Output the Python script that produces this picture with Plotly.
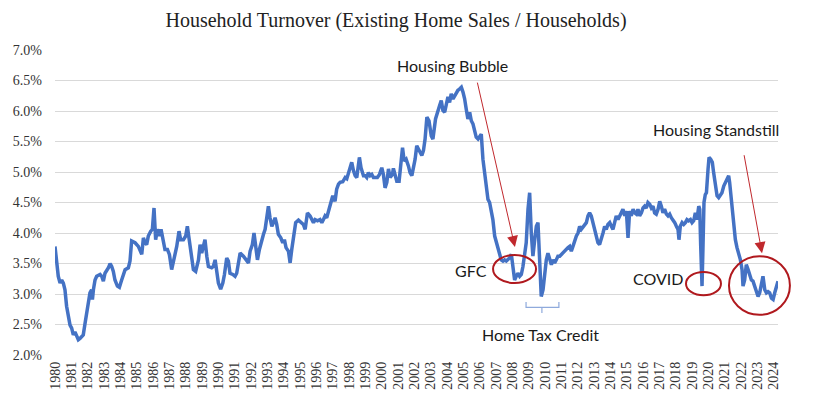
import plotly.graph_objects as go

# ---- data (x in axis-label years, y in % of households) ----
years = [
    1980.00, 1980.10, 1980.20, 1980.31, 1980.41, 1980.51, 1980.61, 1980.71, 1980.82, 1980.92,
    1981.02, 1981.12, 1981.22, 1981.33, 1981.43, 1981.53, 1981.63, 1981.73, 1981.84, 1981.94,
    1982.04, 1982.14, 1982.24, 1982.29, 1982.35, 1982.45, 1982.55, 1982.76, 1982.86, 1982.96,
    1983.06, 1983.27, 1983.37, 1983.47, 1983.57, 1983.67, 1983.82, 1983.94, 1984.08, 1984.18,
    1984.29, 1984.49, 1984.59, 1984.69, 1984.90, 1985.10, 1985.31, 1985.41, 1985.51, 1985.61,
    1985.71, 1985.86, 1985.96, 1986.06, 1986.16, 1986.27, 1986.39, 1986.49, 1986.63, 1986.73,
    1986.88, 1987.00, 1987.14, 1987.24, 1987.45, 1987.59, 1987.69, 1987.86, 1988.00, 1988.10,
    1988.20, 1988.31, 1988.47, 1988.61, 1988.78, 1988.88, 1988.98, 1989.08, 1989.18, 1989.29,
    1989.39, 1989.59, 1989.69, 1989.80, 1989.90, 1990.00, 1990.14, 1990.27, 1990.37, 1990.51,
    1990.61, 1990.71, 1990.88, 1991.02, 1991.12, 1991.22, 1991.33, 1991.53, 1991.69, 1991.84,
    1991.94, 1992.08, 1992.18, 1992.29, 1992.39, 1992.51, 1992.65, 1992.76, 1992.86, 1992.96,
    1993.06, 1993.16, 1993.27, 1993.37, 1993.47, 1993.57, 1993.67, 1993.82, 1993.94, 1994.04,
    1994.14, 1994.29, 1994.39, 1994.49, 1994.59, 1994.73, 1994.90, 1995.04, 1995.20, 1995.31,
    1995.45, 1995.61, 1995.71, 1995.82, 1995.92, 1996.06, 1996.22, 1996.33, 1996.43, 1996.53,
    1996.63, 1996.78, 1996.90, 1997.00, 1997.14, 1997.24, 1997.35, 1997.45, 1997.61, 1997.76,
    1997.86, 1997.96, 1998.06, 1998.16, 1998.27, 1998.37, 1998.47, 1998.57, 1998.63, 1998.73,
    1998.88, 1998.98, 1999.08, 1999.18, 1999.29, 1999.39, 1999.49, 1999.59, 1999.73, 1999.86,
    2000.00, 2000.10, 2000.20, 2000.31, 2000.41, 2000.51, 2000.65, 2000.71, 2000.82, 2000.92,
    2001.06, 2001.16, 2001.27, 2001.37, 2001.49, 2001.63, 2001.73, 2001.84, 2001.94, 2002.04,
    2002.14, 2002.24, 2002.35, 2002.45, 2002.55, 2002.65, 2002.76, 2002.89, 2003.03, 2003.13,
    2003.29, 2003.44, 2003.54, 2003.64, 2003.74, 2003.85, 2003.95, 2004.05, 2004.15, 2004.25,
    2004.36, 2004.46, 2004.56, 2004.66, 2004.76, 2004.87, 2004.97, 2005.07, 2005.17, 2005.27,
    2005.38, 2005.48, 2005.58, 2005.68, 2005.78, 2005.89, 2005.99, 2006.09, 2006.19, 2006.29,
    2006.40, 2006.50, 2006.60, 2006.70, 2006.80, 2006.91, 2007.01, 2007.11, 2007.21, 2007.31,
    2007.42, 2007.52, 2007.62, 2007.72, 2007.82, 2007.93, 2008.03, 2008.13, 2008.23, 2008.33,
    2008.44, 2008.54, 2008.64, 2008.74, 2008.84, 2008.95, 2009.05, 2009.15, 2009.25, 2009.36,
    2009.46, 2009.56, 2009.66, 2009.76, 2009.87, 2009.97, 2010.07, 2010.17, 2010.27, 2010.38,
    2010.48, 2010.58, 2010.68, 2010.78, 2010.89, 2010.99, 2011.09, 2011.19, 2011.29, 2011.40,
    2011.50, 2011.60, 2011.70, 2011.80, 2011.91, 2012.01, 2012.11, 2012.21, 2012.31, 2012.42,
    2012.52, 2012.62, 2012.72, 2012.82, 2012.93, 2013.03, 2013.13, 2013.23, 2013.33, 2013.44,
    2013.54, 2013.64, 2013.74, 2013.84, 2013.95, 2014.05, 2014.15, 2014.25, 2014.35, 2014.46,
    2014.56, 2014.66, 2014.76, 2014.87, 2014.97, 2015.07, 2015.17, 2015.27, 2015.38, 2015.48,
    2015.58, 2015.68, 2015.78, 2015.89, 2015.99, 2016.09, 2016.19, 2016.29, 2016.40, 2016.50,
    2016.60, 2016.70, 2016.80, 2016.91, 2017.01, 2017.11, 2017.21, 2017.31, 2017.42, 2017.52,
    2017.62, 2017.72, 2017.82, 2017.93, 2018.03, 2018.13, 2018.19, 2018.27, 2018.38, 2018.48,
    2018.58, 2018.68, 2018.78, 2018.89, 2018.99, 2019.09, 2019.19, 2019.29, 2019.40, 2019.46,
    2019.52, 2019.60, 2019.66, 2019.72, 2019.80, 2019.87, 2019.97, 2020.03, 2020.13, 2020.23,
    2020.31, 2020.42, 2020.52, 2020.62, 2020.72, 2020.82, 2020.93, 2021.03, 2021.13, 2021.23,
    2021.29, 2021.36, 2021.44, 2021.54, 2021.64, 2021.74, 2021.84, 2021.95, 2022.05, 2022.11,
    2022.21, 2022.31, 2022.42, 2022.52, 2022.62, 2022.72, 2022.82, 2022.93, 2023.03, 2023.13,
    2023.23, 2023.33, 2023.44, 2023.54, 2023.64, 2023.74, 2023.85, 2023.95, 2024.05, 2024.15,
    2024.25,
]
turnover = [
    3.78, 3.56, 3.29, 3.18, 3.23, 3.18, 3.07, 2.80, 2.63, 2.49,
    2.44, 2.33, 2.38, 2.30, 2.25, 2.27, 2.30, 2.33, 2.52, 2.69,
    2.80, 3.02, 3.07, 2.91, 3.07, 3.23, 3.29, 3.32, 3.29, 3.21,
    3.34, 3.43, 3.50, 3.45, 3.37, 3.23, 3.13, 3.11, 3.23, 3.34,
    3.40, 3.43, 3.54, 3.87, 3.84, 3.78, 3.65, 3.92, 3.84, 3.81,
    3.95, 4.03, 4.06, 4.41, 3.89, 4.06, 3.95, 4.06, 3.87, 3.73,
    3.73, 3.65, 3.40, 3.51, 3.78, 4.03, 3.89, 3.89, 3.95, 4.11,
    3.89, 3.73, 3.40, 3.37, 3.56, 3.81, 3.67, 3.78, 3.89, 3.62,
    3.45, 3.43, 3.45, 3.56, 3.34, 3.18, 3.08, 3.18, 3.32, 3.59,
    3.54, 3.34, 3.32, 3.29, 3.34, 3.48, 3.67, 3.62, 3.56, 3.51,
    3.70, 3.81, 4.00, 3.78, 3.56, 3.73, 3.89, 3.98, 4.06, 4.22,
    4.44, 4.25, 4.11, 4.17, 4.25, 4.14, 3.98, 3.92, 3.84, 3.89,
    3.76, 3.70, 3.51, 3.73, 3.95, 4.17, 4.21, 4.18, 4.14, 4.06,
    4.33, 4.28, 4.22, 4.17, 4.22, 4.20, 4.22, 4.17, 4.22, 4.28,
    4.25, 4.41, 4.55, 4.61, 4.52, 4.72, 4.80, 4.83, 4.84, 4.91,
    4.89, 4.99, 5.10, 5.16, 5.02, 4.94, 4.91, 5.07, 5.24, 5.07,
    4.94, 4.94, 4.91, 4.99, 4.94, 4.96, 4.91, 4.91, 4.91, 4.96,
    5.07, 4.96, 4.74, 4.83, 5.05, 4.91, 4.96, 5.06, 4.96, 4.85,
    4.85, 5.16, 5.40, 5.18, 5.21, 5.10, 4.99, 4.94, 5.05, 5.21,
    5.43, 5.38, 5.32, 5.27, 5.35, 5.54, 5.90, 5.84, 5.59, 5.54,
    5.87, 5.98, 6.09, 6.17, 6.01, 5.98, 6.14, 6.23, 6.14, 6.28,
    6.20, 6.25, 6.31, 6.34, 6.36, 6.39, 6.31, 6.20, 6.03, 5.87,
    5.98, 5.84, 5.79, 5.68, 5.57, 5.54, 5.57, 5.62, 5.21, 4.99,
    4.72, 4.55, 4.50, 4.39, 4.22, 3.95, 3.84, 3.78, 3.62, 3.56,
    3.54, 3.56, 3.54, 3.56, 3.59, 3.65, 3.40, 3.23, 3.29, 3.34,
    3.29, 3.32, 3.45, 3.67, 3.84, 4.39, 4.66, 4.00, 3.62, 3.89,
    4.11, 4.17, 3.67, 2.96, 3.07, 3.34, 3.56, 3.67, 3.56, 3.48,
    3.56, 3.51, 3.56, 3.62, 3.62, 3.65, 3.67, 3.70, 3.73, 3.76,
    3.78, 3.70, 3.78, 3.87, 3.95, 4.00, 4.11, 4.06, 4.09, 4.14,
    4.17, 4.28, 4.33, 4.28, 4.17, 4.06, 3.95, 3.84, 3.81, 3.89,
    4.00, 4.11, 4.06, 4.14, 4.17, 4.11, 4.06, 4.17, 4.28, 4.22,
    4.28, 4.36, 4.39, 4.28, 4.36, 3.92, 4.36, 4.28, 4.39, 4.33,
    4.31, 4.39, 4.28, 4.33, 4.41, 4.44, 4.41, 4.50, 4.47, 4.41,
    4.44, 4.33, 4.31, 4.39, 4.52, 4.44, 4.33, 4.39, 4.31, 4.28,
    4.31, 4.25, 4.22, 4.17, 4.11, 4.06, 3.89, 4.11, 4.17, 4.14,
    4.17, 4.22, 4.20, 4.22, 4.17, 4.20, 4.33, 4.22, 4.44, 4.39,
    3.78, 3.13, 3.78, 4.50, 4.63, 4.66, 5.05, 5.24, 5.21, 5.16,
    4.99, 4.74, 4.61, 4.58, 4.61, 4.66, 4.77, 4.83, 4.88, 4.94,
    4.83, 4.61, 4.39, 4.11, 3.89, 3.76, 3.67, 3.56, 3.40, 3.13,
    3.23, 3.48, 3.40, 3.29, 3.23, 3.21, 3.13, 3.02, 2.96, 3.02,
    3.13, 3.29, 3.07, 3.02, 3.04, 3.02, 2.93, 2.91, 3.02, 3.13,
    3.21,
]
tick_years = list(range(1980, 2025))
y_ticks = [2.0, 2.5, 3.0, 3.5, 4.0, 4.5, 5.0, 5.5, 6.0, 6.5, 7.0]

title_text = "Household Turnover (Existing Home Sales / Households)"

# ---- layout geometry (page has an 8px body margin, so the figure is 812x386) ----
W, H = 812, 386
ML, MR, MT, MB = 47, 42, 42, 39
X_RANGE = [1980.0, 2024.25]
Y_RANGE = [2.0, 7.0]

def xp(v):
    return (v - X_RANGE[0]) / (X_RANGE[1] - X_RANGE[0])

def yp(v):
    return (v - Y_RANGE[0]) / (Y_RANGE[1] - Y_RANGE[0])

RED = "#B0191E"
ARROW_RED = "#C0282D"
BRACKET = "#8FAADC"
SERIF = "Liberation Serif, Times New Roman, serif"
NOTE_FONT = dict(family="Lato, Carlito, Calibri, sans-serif", size=16, color="#1a1a1a")

fig = go.Figure()
fig.add_trace(go.Scatter(
    x=years, y=turnover, mode="lines",
    line=dict(color="#4472C4", width=3.5),
    hoverinfo="skip", showlegend=False,
))

shapes = []
# circles (ellipses)
for (x0, x1, y0, y1) in [(2006.81, 2009.44, 3.18, 3.64),
                         (2018.62, 2020.76, 2.98, 3.36),
                         (2021.25, 2024.98, 2.66, 3.62)]:
    shapes.append(dict(type="circle", xref="paper", yref="paper",
                       x0=xp(x0), x1=xp(x1), y0=yp(y0), y1=yp(y1),
                       line=dict(color=RED, width=2)))
# home tax credit bracket
bx0, bx1, bxc = 2008.83, 2010.84, 2009.80
by_top, by_mid, by_bot = 2.87, 2.78, 2.69
path = (f"M {xp(bx0)},{yp(by_top)} L {xp(bx0)},{yp(by_mid)} L {xp(bx1)},{yp(by_mid)} L {xp(bx1)},{yp(by_top)} "
        f"M {xp(bxc)},{yp(by_mid)} L {xp(bxc)},{yp(by_bot)}")
shapes.append(dict(type="path", xref="paper", yref="paper", path=path,
                   line=dict(color=BRACKET, width=1.2)))

annotations = []
texts = [("Housing Bubble", 2004.30, 6.74),
         ("GFC", 2005.46, 3.38),
         ("Home Tax Credit", 2009.74, 2.33),
         ("COVID", 2016.90, 3.26),
         ("Housing Standstill", 2020.48, 5.70)]
for t, x, y in texts:
    annotations.append(dict(text=t, x=xp(x), y=yp(y), xref="paper", yref="paper",
                            showarrow=False, xanchor="center", yanchor="middle",
                            font=NOTE_FONT))
for (tx, ty, hx, hy) in [(2005.83, 6.49, 2008.15, 3.77),
                         (2022.16, 5.30, 2023.27, 3.67)]:
    annotations.append(dict(text="", x=hx, y=hy, xref="x", yref="y",
                            ax=tx, ay=ty, axref="x", ayref="y",
                            showarrow=True, arrowhead=2, arrowsize=2.2, arrowwidth=1,
                            arrowcolor=ARROW_RED, standoff=0, startstandoff=0))

fig.update_layout(
    width=W, height=H,
    margin=dict(l=ML, r=MR, t=MT, b=MB),
    paper_bgcolor="white", plot_bgcolor="white",
    title=dict(text=title_text, x=388 / W, xanchor="center", y=1 - 12 / H, yanchor="middle",
               yref="container",
               font=dict(family=SERIF, size=20, color="#222222")),
    xaxis=dict(range=X_RANGE, tickmode="array", tickvals=tick_years,
               ticktext=[str(v) for v in tick_years], tickangle=-90,
               showgrid=False, zeroline=False, showline=False, ticks="",
               ticklabelstandoff=3, automargin=False,
               tickfont=dict(family=SERIF, size=14, color="#333333")),
    yaxis=dict(range=Y_RANGE, tickmode="array", tickvals=y_ticks,
               ticktext=[f"{v:.1f}%" for v in y_ticks],
               showgrid=True, gridcolor="#D9D9D9", gridwidth=1,
               zeroline=False, showline=False, ticks="",
               ticklabelstandoff=12, automargin=False,
               tickfont=dict(family=SERIF, size=14, color="#333333")),
    shapes=shapes,
    annotations=annotations,
)

fig.write_html("out.html")
